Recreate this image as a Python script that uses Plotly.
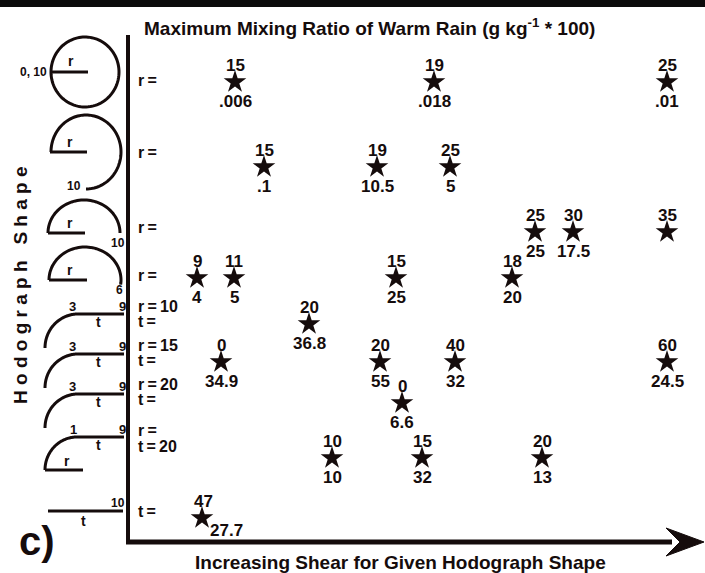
import numpy as np
import plotly.graph_objects as go

# ---- data ---------------------------------------------------------------
# Each star: hodograph row (0 = top), position along the shear axis,
# shear value (upper label) and maximum warm-rain mixing ratio (lower label).
star_row = [0, 0, 0,
            1, 1, 1,
            2, 2, 2,
            3, 3, 3, 3,
            4,
            5, 5, 5, 5,
            6,
            7, 7, 7,
            8]
star_pos = [235, 434, 667,
            264, 377, 450,
            535, 573, 667,
            197, 234, 396, 512,
            309,
            221, 380, 455, 667,
            402,
            332, 422, 542,
            202]
shear_lbl = ["15", "19", "25",
             "15", "19", "25",
             "25", "30", "35",
             "9", "11", "15", "18",
             "20",
             "0", "20", "40", "60",
             "0",
             "10", "15", "20",
             "47"]
rain_lbl = [".006", ".018", ".01",
            ".1", "10.5", "5",
            "25", "17.5", "",
            "4", "5", "25", "20",
            "36.8",
            "34.9", "55", "32", "24.5",
            "6.6",
            "10", "32", "13",
            "27.7"]

# vertical centre of each hodograph row
row_y = [82, 167, 232, 278, 324, 362, 403, 458, 518]

# row captions next to the axis: (text, row line)
TS = "\u2009"  # thin space keeps the captions compact
row_caption = [(f"r{TS}={TS}", 80), (f"r{TS}={TS}", 152), (f"r{TS}={TS}", 227),
               (f"r{TS}={TS}", 275),
               (f"r{TS}={TS}10", 306), (f"t{TS}={TS}", 321),
               (f"r{TS}={TS}15", 345), (f"t{TS}={TS}", 360),
               (f"r{TS}={TS}20", 384), (f"t{TS}={TS}", 399),
               (f"r{TS}={TS}", 430), (f"t{TS}={TS}20", 446),
               (f"t{TS}={TS}", 511)]

W, H = 705, 573
INK = "#150c0c"
FONT = "Liberation Sans, Arial, sans-serif"

fig = go.Figure()


def arc_path(cx, cy, rx, ry, a0, a1, n=60):
    t = np.radians(np.linspace(a0, a1, n))
    xs = cx + rx * np.cos(t)
    ys = cy - ry * np.sin(t)
    return "M " + " L ".join(f"{x:.2f},{y:.2f}" for x, y in zip(xs, ys))


def add_path(p, width=3):
    fig.add_shape(type="path", path=p, xref="x", yref="y",
                  line=dict(color=INK, width=width))


def add_line(x0, y0, x1, y1, width=3):
    fig.add_shape(type="line", x0=x0, y0=y0, x1=x1, y1=y1, xref="x", yref="y",
                  line=dict(color=INK, width=width))


def note(x, y, text, size=12, xanchor="center", yanchor="middle", **kw):
    fig.add_annotation(x=x, y=y, text=text, showarrow=False, xref="x", yref="y",
                       xanchor=xanchor, yanchor=yanchor,
                       font=dict(family=FONT, size=size, color=INK, weight="bold"),
                       **kw)


# ---- hodograph sketches --------------------------------------------------
# full circle
add_path(arc_path(85, 72, 34, 35, 0, 360, 120))
add_line(51, 72, 88, 72)
note(71, 61, "r", 14)
note(33, 72, "0, 10", 12)

# three-quarter circle
add_path(arc_path(86, 152, 35, 37, 180, -90, 100))
add_line(50, 152, 87, 152)
note(70, 142, "r", 14)
note(74, 186, "10", 12)

# half circles
add_path(arc_path(84, 233, 36, 33, 180, 0))
add_line(48, 233, 85, 233)
note(70, 223, "r", 14)
note(118, 243, "10", 12)

add_path(arc_path(85, 280, 36, 33, 180, -8))
add_line(49, 280, 87, 280)
note(70, 270, "r", 14)
note(119, 290, "6", 12)

# quarter-circle turning then straight segment
for ly, lab in [(314, "3"), (354, "3"), (394, "3")]:
    add_path(arc_path(78, ly + 34, 33, 34, 180, 90))
    add_line(78, ly, 124, ly)
    note(72, ly - 8, lab, 13)
    note(122, ly - 8, "9", 13)
    note(98, ly + 8, "t", 14)

add_path(arc_path(77, 470, 32, 33, 180, 90))
add_line(77, 437, 124, 437)
add_line(45, 470, 83, 470)
note(73, 429, "1", 13)
note(122, 429, "9", 13)
note(98, 445, "t", 14)
note(67, 461, "r", 14)

# straight line
add_line(48, 511, 123, 511)
note(118, 503, "10", 12)
note(83, 521, "t", 14)

# ---- axes ----------------------------------------------------------------
fig.add_shape(type="rect", x0=0, x1=W, y0=0, y1=7, xref="x", yref="y",
              line=dict(width=0), fillcolor="#0b0b0b")
add_line(128, 35, 128, 544, 4)
add_line(126, 542, 672, 542, 5)
fig.add_shape(type="path", path="M 704,542 L 666,528 L 680,542 L 666,556 Z",
              xref="x", yref="y", line=dict(color=INK, width=1), fillcolor=INK)

note(142, 27, "Maximum Mixing Ratio of Warm Rain (g kg<sup>-1</sup> * 100)", 19,
     xanchor="left")
note(400, 562, "Increasing Shear for Given Hodograph Shape", 19)
note(20, 285, "H o d o g r a p h   S h a p e", 19, textangle=-90)
note(37, 541, "c)", 40)

for txt, y in row_caption:
    note(136, y, txt, 16, xanchor="left")

# ---- stars and their labels ---------------------------------------------
sy = [row_y[r] for r in star_row]
fig.add_trace(go.Scatter(x=star_pos, y=sy, mode="markers", hoverinfo="skip",
                         marker=dict(symbol="star", size=17, color=INK,
                                     line=dict(width=0))))

for i, (x, y) in enumerate(zip(star_pos, sy)):
    top_dx, bot_dx, bot_dy = 0, 0, 19
    if i == len(star_pos) - 1:       # crowded bottom-left star
        top_dx, bot_dx, bot_dy = 1, 24, 12
    note(x, y, shear_lbl[i], 17, xshift=top_dx, yshift=17)
    if rain_lbl[i]:
        note(x, y, rain_lbl[i], 17, xshift=bot_dx, yshift=-bot_dy)

fig.update_layout(
    width=W, height=H,
    margin=dict(l=0, r=0, t=0, b=0),
    paper_bgcolor="white", plot_bgcolor="white",
    showlegend=False,
    xaxis=dict(range=[0, W], visible=False, fixedrange=True),
    yaxis=dict(range=[H, 0], visible=False, fixedrange=True),
)

fig.write_html("out.html")
